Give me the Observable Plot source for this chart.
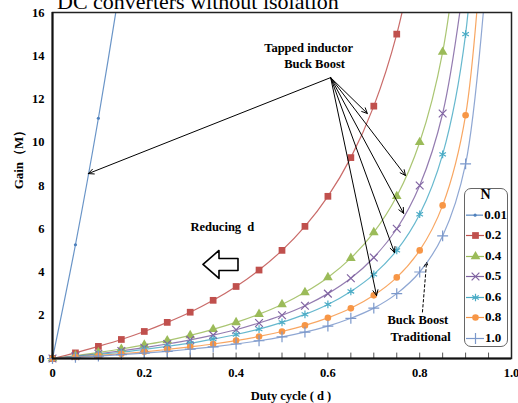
<!DOCTYPE html>
<html><head><meta charset="utf-8">
<script src="https://cdn.jsdelivr.net/npm/d3@7"></script>
<script src="https://cdn.jsdelivr.net/npm/@observablehq/plot@0.6"></script>
<style>
body{margin:0;background:#fff;overflow:hidden;}
#wrap{position:relative;width:518px;height:403px;font-family:"Liberation Serif","Times New Roman",serif;}
#title{position:absolute;left:57px;top:-9px;font-size:22px;line-height:22px;white-space:nowrap;color:#000;}
#legend{position:absolute;left:464px;top:188px;width:44px;height:159px;border:1.5px solid #666;border-radius:7px;background:#fff;box-sizing:border-box;}
.lrow{position:absolute;left:0;height:16px;display:flex;align-items:center;font-weight:bold;font-size:13px;}
.lhead{position:absolute;left:0;width:41px;text-align:center;font-weight:bold;font-size:14px;}
</style></head><body>
<div id="wrap"><div id="chart"></div><div id="title">DC converters without isolation</div><div id="legend"></div></div>
<script>
// ---- data ----
const dutyCycle = [0, 0.05, 0.1, 0.15, 0.2, 0.25, 0.3, 0.35, 0.4, 0.45, 0.5, 0.55, 0.6, 0.65, 0.7, 0.75, 0.8, 0.85, 0.9, 0.95];
const gainN001 = [0, 5.26, 11.11, 17.6];
const gainN02  = [0, 0.26, 0.56, 0.88, 1.25, 1.67, 2.14, 2.69, 3.33, 4.09, 5.0, 6.11, 7.5, 9.29, 11.67, 15.0, 20.0];
const gainN04  = [0, 0.13, 0.28, 0.44, 0.63, 0.83, 1.07, 1.35, 1.67, 2.05, 2.5, 3.06, 3.75, 4.64, 5.83, 7.5, 10.0, 14.17, 22.5];
const gainN05  = [0, 0.11, 0.22, 0.35, 0.5, 0.67, 0.86, 1.08, 1.33, 1.64, 2.0, 2.44, 3.0, 3.71, 4.67, 6.0, 8.0, 11.33, 18.0];
const gainN06  = [0, 0.09, 0.19, 0.29, 0.42, 0.56, 0.71, 0.9, 1.11, 1.36, 1.67, 2.04, 2.5, 3.1, 3.89, 5.0, 6.67, 9.44, 15.0, 31.7];
const gainN08  = [0, 0.07, 0.14, 0.22, 0.31, 0.42, 0.54, 0.67, 0.83, 1.02, 1.25, 1.53, 1.88, 2.32, 2.92, 3.75, 5.0, 7.08, 11.25, 23.75];
const gainN10  = [0, 0.05, 0.11, 0.18, 0.25, 0.33, 0.43, 0.54, 0.67, 0.82, 1.0, 1.22, 1.5, 1.86, 2.33, 3.0, 4.0, 5.67, 9.0, 19.0];
const seriesLabels = ["0.01", "0.2", "0.4", "0.5", "0.6", "0.8", "1.0"];
const seriesColors = ["#4F81BD", "#C0504D", "#9BBB59", "#8064A2", "#4BACC6", "#F79646", "#7B98CB"];
const seriesSymbols = ["circle", "square", "triangle", "times", "asterisk", "circle", "plus"];
const xTicks = [0, 0.2, 0.4, 0.6, 0.8, 1.0];
const xTickLabels = ["0", "0.2", "0.4", "0.6", "0.8", "1.0"];
const xMinorTicks = [0.05, 0.1, 0.15, 0.2, 0.25, 0.3, 0.35, 0.4, 0.45, 0.5, 0.55, 0.6, 0.65, 0.7, 0.75, 0.8, 0.85, 0.9, 0.95];
const yTicks = [0, 2, 4, 6, 8, 10, 12, 14, 16];
// annotation arrows (data coordinates)
const tappedArrows = [
  {x1: 0.606, y1: 12.99, x2: 0.078, y2: 8.55},
  {x1: 0.606, y1: 12.99, x2: 0.686, y2: 11.33},
  {x1: 0.606, y1: 12.99, x2: 0.769, y2: 8.46},
  {x1: 0.606, y1: 12.99, x2: 0.765, y2: 6.71},
  {x1: 0.606, y1: 12.99, x2: 0.745, y2: 4.90},
  {x1: 0.606, y1: 12.99, x2: 0.706, y2: 2.91}
];
const traditionalArrow = [{x1: 0.806, y1: 2.15, x2: 0.815, y2: 4.45}];
const notes = [
  {x: 0.558, y: 14.37, text: "Tapped inductor"},
  {x: 0.571, y: 13.6, text: "Buck Boost"},
  {x: 0.37, y: 6.1, text: "Reducing  d"},
  {x: 0.796, y: 1.76, text: "Buck Boost"},
  {x: 0.802, y: 1.0, text: "Traditional"}
];
const hollowArrow = [{x: 0.366, y: 4.35}];

// ---- build ----
const gains = [gainN001, gainN02, gainN04, gainN05, gainN06, gainN08, gainN10];
const series = gains.map((g, i) => g.map((v, j) => ({d: dutyCycle[j], m: v, i})));

const marks = [];
series.forEach((s, i) => {
  marks.push(Plot.line(s, {x: "d", y: "m", stroke: seriesColors[i], strokeWidth: 1.2, strokeOpacity: 0.85, curve: "catmull-rom", clip: true}));
});
series.forEach((s, i) => {
  const vis = s.filter(p => p.m <= 16);
  const sym = seriesSymbols[i];
  const filled = ["circle", "square", "triangle"].includes(sym);
  const r = i === 0 ? 1.6 : (sym === "square" ? 3.8 : sym === "circle" ? 3.3 : 3.6);
  marks.push(Plot.dot(vis, filled
    ? {x: "d", y: "m", symbol: () => sym, r, fill: seriesColors[i], stroke: "none"}
    : {x: "d", y: "m", symbol: () => sym, r, stroke: seriesColors[i], strokeWidth: 1.2}));
});

// block (hollow) arrow shape for a vector mark; drawn pointing up, rotated left
const blockArrow = {
  draw(context, l) {
    const head = 16, hw = 14, bw = 6;
    context.moveTo(-bw, 0);
    context.lineTo(bw, 0);
    context.lineTo(bw, -(l - head));
    context.lineTo(hw, -(l - head));
    context.lineTo(0, -l);
    context.lineTo(-hw, -(l - head));
    context.lineTo(-bw, -(l - head));
    context.closePath();
  }
};

const chart = Plot.plot({
  width: 518, height: 403,
  marginLeft: 52, marginRight: 7, marginTop: 12, marginBottom: 45,
  style: {fontFamily: "'Liberation Serif','Times New Roman',serif", fontSize: "12px", fontWeight: "bold", background: "#fff", color: "#000"},
  x: {domain: [0, 1]},
  y: {domain: [0, 16]},
  symbol: {type: "identity"},
  marks: [
    Plot.ruleX(xMinorTicks, {y1: 0, y2: 0.25, stroke: "#555", strokeWidth: 1}),
    ...marks,
    Plot.arrow(tappedArrows, {x1: "x1", y1: "y1", x2: "x2", y2: "y2", stroke: "#000", strokeWidth: 1, headLength: 9, headAngle: 50}),
    Plot.arrow(traditionalArrow, {x1: "x1", y1: "y1", x2: "x2", y2: "y2", stroke: "#000", strokeWidth: 1, strokeDasharray: "2.5,2.5", headLength: 7, headAngle: 50}),
    Plot.text(notes, {x: "x", y: "y", text: "text", fontSize: 12.5, fontWeight: "bold", fill: "#000"}),
    Plot.vector(hollowArrow, {x: "x", y: "y", length: 35, rotate: -90, anchor: "middle", shape: blockArrow, fill: "#fff", stroke: "#000", strokeWidth: 1.6}),
    Plot.frame({stroke: "#222", strokeWidth: 1.5}),
    Plot.ruleX([0], {stroke: "#111", strokeWidth: 2}),
    Plot.ruleY([0], {stroke: "#111", strokeWidth: 2}),
    Plot.axisY({ticks: yTicks, tickSize: 0, tickPadding: 8, label: null, fontSize: 12.5, fontWeight: "bold"}),
    Plot.axisX({ticks: xTicks, tickSize: 0, tickPadding: 10, label: null, tickFormat: v => xTickLabels[xTicks.indexOf(v)] ?? v, fontSize: 12.5, fontWeight: "bold"}),
    Plot.text(["Gain（M）"], {frameAnchor: "left", textAnchor: "middle", lineAnchor: "middle", rotate: -90, dx: -34, dy: -29, fontSize: 13, fontWeight: "bold"}),
    Plot.text(["Duty cycle ( d )"], {frameAnchor: "bottom", textAnchor: "middle", lineAnchor: "middle", dx: 9, dy: 37, fontSize: 12.5, fontWeight: "bold"})
  ]
});
document.getElementById("chart").appendChild(chart);

// ---- legend ----
const legend = document.getElementById("legend");
const head = document.createElement("div");
head.className = "lhead"; head.style.top = (195 - 188 - 9) + "px"; head.textContent = "N";
legend.appendChild(head);
seriesLabels.forEach((lab, i) => {
  const row = document.createElement("div");
  row.className = "lrow";
  row.style.top = (215 + i * 20.5 - 188 - 8 - 1.5) + "px";
  const sym = seriesSymbols[i];
  const filled = ["circle", "square", "triangle"].includes(sym);
  const r = i === 0 ? 1.6 : (sym === "square" ? 3.8 : sym === "circle" ? 3.3 : 3.6);
  const sw = Plot.plot({
    width: 18, height: 16, margin: 0,
    x: {domain: [0, 1], axis: null}, y: {domain: [0, 1], axis: null},
    symbol: {type: "identity"},
    marks: [
      Plot.ruleY([0.5], {x1: 0, x2: 1, stroke: seriesColors[i], strokeWidth: 1.2}),
      Plot.dot([0.5], filled
        ? {x: d => d, y: d => d, symbol: () => sym, r, fill: seriesColors[i]}
        : {x: d => d, y: d => d, symbol: () => sym, r, stroke: seriesColors[i], strokeWidth: 1.2})
    ]
  });
  sw.style.marginLeft = "1px";
  row.appendChild(sw);
  const t = document.createElement("span");
  t.textContent = lab; t.style.marginLeft = "1px";
  row.appendChild(t);
  legend.appendChild(row);
});
</script></body></html>
